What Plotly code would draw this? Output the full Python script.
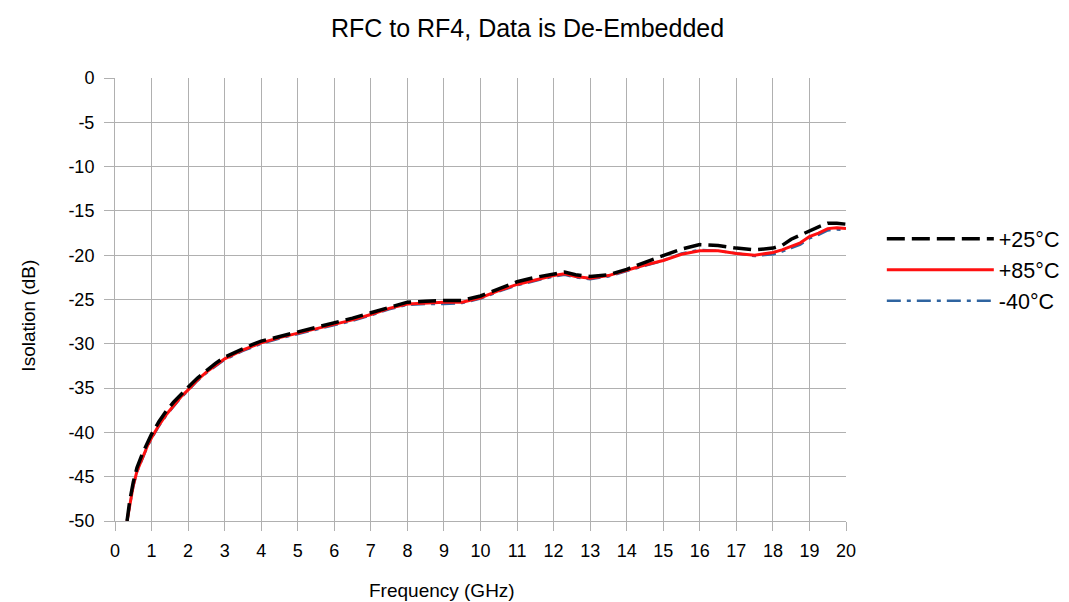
import plotly.graph_objects as go

freq_ghz = [0.33, 0.4, 0.5, 0.6, 0.75, 0.9, 1.0, 1.2, 1.4, 1.6, 1.8, 2.0, 2.25, 2.5, 2.75,
            3.0, 3.25, 3.5, 3.75, 4.0, 4.5, 5.0, 5.5, 6.0, 6.5, 7.0, 7.5, 8.0, 8.5, 9.0,
            9.5, 10.0, 10.5, 11.0, 11.5, 12.0, 12.3, 12.6, 13.0, 13.5, 14.0, 14.5, 15.0,
            15.5, 16.0, 16.5, 17.0, 17.5, 18.0, 18.25, 18.5, 18.75, 19.0, 19.25, 19.5,
            19.75, 20.0]

iso_25c = [-50.0, -47.8, -45.6, -44.0, -42.4, -41.0, -40.2, -38.8, -37.6, -36.6, -35.7,
           -34.9, -33.9, -33.0, -32.2, -31.5, -31.0, -30.5, -30.1, -29.7, -29.2, -28.7,
           -28.2, -27.7, -27.1, -26.5, -25.9, -25.3, -25.2, -25.1, -25.1, -24.6, -23.8,
           -23.0, -22.5, -22.1, -21.9, -22.2, -22.4, -22.2, -21.6, -20.8, -20.0, -19.3,
           -18.8, -18.9, -19.2, -19.4, -19.2, -18.9, -18.2, -17.7, -17.2, -16.8, -16.4,
           -16.4, -16.5]

iso_85c = [-50.0, -48.2, -46.0, -44.4, -42.8, -41.4, -40.6, -39.2, -38.0, -37.0, -36.0,
           -35.2, -34.1, -33.2, -32.4, -31.7, -31.2, -30.7, -30.3, -29.9, -29.3, -28.8,
           -28.3, -27.8, -27.3, -26.7, -26.0, -25.5, -25.4, -25.3, -25.3, -24.8, -24.0,
           -23.3, -22.8, -22.3, -22.1, -22.4, -22.6, -22.3, -21.7, -21.1, -20.6, -19.9,
           -19.5, -19.5, -19.8, -20.0, -19.7, -19.4, -19.0, -18.6, -17.9, -17.5, -17.0,
           -16.9, -17.0]

iso_m40c = [-50.0, -48.3, -46.1, -44.5, -42.9, -41.5, -40.7, -39.3, -38.1, -37.1, -36.1,
            -35.3, -34.2, -33.3, -32.5, -31.8, -31.3, -30.8, -30.4, -30.0, -29.4, -28.9,
            -28.4, -27.9, -27.4, -26.8, -26.1, -25.6, -25.5, -25.5, -25.4, -24.9, -24.1,
            -23.4, -22.9, -22.4, -22.2, -22.5, -22.7, -22.4, -21.8, -21.2, -20.6, -19.8,
            -19.4, -19.5, -19.8, -20.1, -19.9, -19.6, -19.2, -18.8, -18.1, -17.7, -17.2,
            -17.1, -17.2]

x_ticks = list(range(0, 21))
y_ticks = list(range(-50, 1, 5))
y_tick_labels = [str(v) for v in y_ticks]

FONT = "Liberation Sans, Arial, sans-serif"
GRID = "#b0b0b0"

fig = go.Figure()
fig.add_trace(go.Scatter(x=freq_ghz, y=iso_m40c, mode="lines", name="-40°C", legendrank=3,
                         line=dict(color="#2f64a0", width=2.5, dash="14px,6px,4px,6px")))
fig.add_trace(go.Scatter(x=freq_ghz, y=iso_85c, mode="lines", name="+85°C", legendrank=2,
                         line=dict(color="#ff1010", width=3)))
fig.add_trace(go.Scatter(x=freq_ghz, y=iso_25c, mode="lines", name="+25°C", legendrank=1,
                         line=dict(color="#000000", width=3.5, dash="18px,7px")))

fig.update_layout(
    width=1069, height=602,
    margin=dict(l=107, r=224, t=70, b=89),
    paper_bgcolor="white", plot_bgcolor="white",
    font=dict(family=FONT, size=18, color="#000000"),
    title=dict(text="RFC to RF4, Data is De-Embedded", x=0.486, xanchor="center",
               y=1 - 20 / 602, yanchor="middle", yref="container",
               font=dict(size=25, family=FONT, color="#000000")),
    showlegend=True,
    legend=dict(x=1.049, xanchor="left", y=0.567, yanchor="middle",
                font=dict(size=21.5, family=FONT), itemwidth=107,
                bgcolor="rgba(0,0,0,0)", tracegroupgap=0),
    xaxis=dict(range=[0, 20], tickmode="array", tickvals=x_ticks, showgrid=True,
               gridcolor=GRID, gridwidth=1, showline=True, linecolor=GRID, linewidth=1,
               ticks="outside", ticklen=9, tickcolor=GRID, zeroline=False,
               ticklabelstandoff=4, tickfont=dict(size=18)),
    yaxis=dict(range=[-50, 0], tickmode="array", tickvals=y_ticks, ticktext=y_tick_labels,
               showgrid=True, gridcolor=GRID, gridwidth=1, showline=True, linecolor=GRID,
               linewidth=1, ticks="outside", ticklen=10, tickcolor=GRID, zeroline=False,
               ticklabelstandoff=6, tickfont=dict(size=18)),
    annotations=[
        dict(text="Frequency (GHz)", xref="paper", yref="paper", x=0.447, y=-0.158,
             xanchor="center", yanchor="middle", showarrow=False, font=dict(size=19)),
        dict(text="Isolation (dB)", xref="paper", yref="paper", x=-0.118, y=0.463,
             xanchor="center", yanchor="middle", showarrow=False, textangle=-90,
             font=dict(size=19)),
    ],
)

fig.write_html("out.html")
